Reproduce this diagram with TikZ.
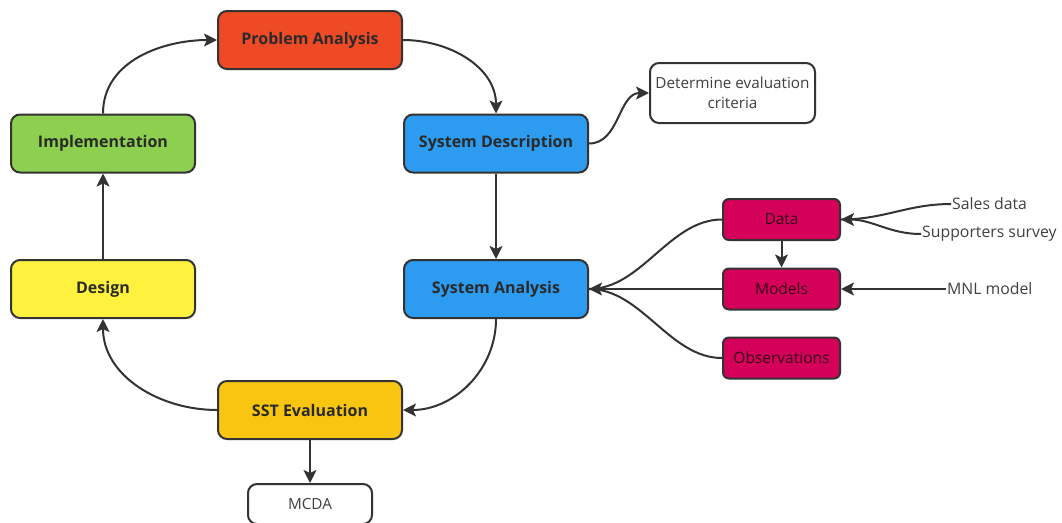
\documentclass[tikz,border=0pt]{standalone}
\usepackage{fontspec}
\setmainfont{Open Sans}
\usetikzlibrary{arrows.meta}
\definecolor{edge}{HTML}{333333}
\definecolor{cred}{HTML}{EF4A26}
\definecolor{cgreen}{HTML}{8DD04F}
\definecolor{cblue}{HTML}{2D9BF0}
\definecolor{cyellow}{HTML}{FFF23F}
\definecolor{corange}{HTML}{F8C510}
\definecolor{cmag}{HTML}{D5005A}
\definecolor{txt}{HTML}{2A2A2A}
\begin{document}
\begin{tikzpicture}[x=1pt,y=-1pt,
  box/.style={draw=edge,line width=2pt,rounded corners=9pt,text=txt},
  stage/.style={box,minimum width=184pt,minimum height=58pt,font=\fontsize{16}{18}\selectfont\bfseries},
  leaf/.style={box,fill=cmag,minimum width=117pt,minimum height=41pt,rounded corners=6pt,text=black!75!cmag,font=\fontsize{15.5}{18}\selectfont},
  note/.style={box,fill=white,text=black!75,font=\fontsize{15.3}{20}\selectfont,align=center},
  src/.style={inner sep=1pt,anchor=west,text=black!75,font=\fontsize{15.8}{18}\selectfont},
  link/.style={draw=edge,line width=2pt,-{Stealth[length=13pt,width=13pt,inset=3pt]}},
  plain/.style={draw=edge,line width=2pt}]
\useasboundingbox (0,0) rectangle (1062,522);

% main cycle
\node[stage,fill=cred]    (pa)   at (310,40)    {Problem Analysis};
\node[stage,fill=cgreen]  (impl) at (103,143.5) {Implementation};
\node[stage,fill=cblue]   (sd)   at (496,143.5) {System Description};
\node[stage,fill=cyellow] (des)  at (103,289)   {Design};
\node[stage,fill=cblue]   (sa)   at (496,289)   {System Analysis};
\node[stage,fill=corange] (sst)  at (310,410)   {SST Evaluation};

% side notes
\node[note,minimum width=165pt,minimum height=60pt] (det) at (732.5,93) {Determine evaluation\\criteria};
\node[note,minimum width=124pt,minimum height=40pt] (mcda) at (310,504) {MCDA};

% analysis inputs
\node[leaf] (data) at (781.5,219.5) {Data};
\node[leaf] (mod)  at (781.5,289)   {Models};
\node[leaf] (obs)  at (781.5,358)   {Observations};

\node[src] (sales) at (951,204) {Sales data};
\node[src] (surv)  at (921,234) {Supporters survey};
\node[src] (mnl)   at (946,289) {MNL model};

% cycle connectors
\draw[link] (impl.north) to[out=90,in=180] (pa.west);
\draw[link] (pa.east) to[out=0,in=90] (sd.north);
\draw[link] (sd.south) -- (sa.north);
\draw[link] (sa.south) to[out=-90,in=0] (sst.east);
\draw[link] (sst.west) to[out=180,in=-90] (des.south);
\draw[link] (des.north) -- (impl.south);

% branches
\draw[link] (sd.east) to[out=0,in=180] (det.west);
\draw[link] (sst.south) -- (mcda.north);

\draw[plain] (data.west) to[out=180,in=0,looseness=0.9] (sa.east);
\draw[plain] (obs.west) to[out=180,in=0,looseness=0.9] (sa.east);
\draw[link] (mod.west) -- (sa.east);
\draw[link] (data.south) -- (mod.north);

\draw[plain] (sales.west) to[out=180,in=0] (data.east);
\draw[link] (surv.west) to[out=180,in=0] (data.east);
\draw[link] (mnl.west) -- (mod.east);
\end{tikzpicture}
\end{document}
